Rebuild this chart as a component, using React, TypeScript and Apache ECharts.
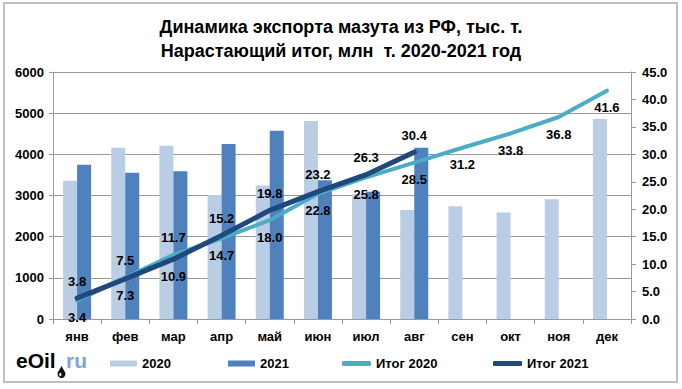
import React, { useEffect, useRef } from "react";
import * as echarts from "echarts";

const months = ["янв", "фев", "мар", "апр", "май", "июн", "июл", "авг", "сен", "окт", "ноя", "дек"];
const export2020 = [3360, 4160, 4210, 3010, 3240, 4810, 3030, 2650, 2740, 2590, 2910, 4860];
const export2021 = [3750, 3550, 3590, 4250, 4570, 3370, 3090, 4160];
const total2020 = [3.4, 7.5, 11.7, 14.7, 18.0, 22.8, 25.8, 28.5, 31.2, 33.8, 36.8, 41.6];
const total2021 = [3.8, 7.3, 10.9, 15.2, 19.8, 23.2, 26.3, 30.4];
const leftTicks = [0, 6000, 1000];
const rightTicks = [0, 45, 5];

const pos2020 = ["bottom", "top", "top", "bottom", "bottom", "bottom", "bottom", "bottom", "bottom", "bottom", "bottom", "bottom"];
const pos2021 = ["top", "bottom", "bottom", "top", "top", "top", "top", "top"];

const FONT = "'Liberation Sans', Arial, sans-serif";

export default function App() {
  const ref = useRef<HTMLDivElement>(null);
  useEffect(() => {
    document.body.style.margin = "0";
    if (!ref.current) return;
    const chart = echarts.init(ref.current, null, { renderer: "svg" });
    const lbl = { fontFamily: FONT, fontWeight: "bold" as const, fontSize: 13, color: "#000" };
    const legendBase = {
      top: 357,
      padding: 0,
      itemGap: 0,
      textStyle: { ...lbl },
    };
    chart.setOption({
      animation: false,
      backgroundColor: "#fff",
      textStyle: { fontFamily: FONT },
      title: {
        text: "Динамика экспорта мазута из РФ, тыс. т.\nНарастающий итог, млн  т. 2020-2021 год",
        left: "center",
        top: 10,
        textStyle: { fontFamily: FONT, fontWeight: "bold", fontSize: 18, lineHeight: 24, color: "#000" },
      },
      grid: { left: 53, right: 51, top: 72, bottom: 70, containLabel: false },
      legend: [
        { ...legendBase, left: 110, data: ["2020"], itemWidth: 27, itemHeight: 6, icon: "rect" },
        { ...legendBase, left: 228, data: ["2021"], itemWidth: 27, itemHeight: 6, icon: "rect" },
        { ...legendBase, left: 342, data: ["Итог 2020"], itemWidth: 29, itemHeight: 5, icon: "roundRect" },
        { ...legendBase, left: 493, data: ["Итог 2021"], itemWidth: 29, itemHeight: 5, icon: "roundRect" },
      ],
      xAxis: {
        type: "category",
        data: months,
        boundaryGap: true,
        axisLine: { lineStyle: { color: "#999", width: 1 } },
        axisTick: { show: true, length: 5, lineStyle: { color: "#999" } },
        axisLabel: { ...lbl, margin: 11, interval: 0 },
      },
      yAxis: [
        {
          type: "value",
          min: leftTicks[0],
          max: leftTicks[1],
          interval: leftTicks[2],
          axisLine: { show: true, lineStyle: { color: "#999" } },
          axisTick: { show: true, length: 4, lineStyle: { color: "#999" } },
          axisLabel: { ...lbl, margin: 9, formatter: (v: number) => String(v) },
          splitLine: { show: true, lineStyle: { color: "#999", width: 1 } },
        },
        {
          type: "value",
          min: rightTicks[0],
          max: rightTicks[1],
          interval: rightTicks[2],
          position: "right",
          axisLine: { show: true, lineStyle: { color: "#999" } },
          axisTick: { show: true, length: 5, lineStyle: { color: "#999" } },
          axisLabel: { ...lbl, margin: 11, formatter: (v: number) => v.toFixed(1) },
          splitLine: { show: false },
        },
      ],
      series: [
        {
          name: "2020",
          type: "bar",
          data: export2020,
          barWidth: 14,
          barGap: "0%",
          itemStyle: { color: "#B9CDE5" },
        },
        {
          name: "2021",
          type: "bar",
          data: export2021,
          barWidth: 14,
          barGap: "0%",
          itemStyle: { color: "#4F81BD" },
        },
        {
          name: "Итог 2020",
          type: "line",
          yAxisIndex: 1,
          data: total2020.map((v, i) => ({ value: v, label: { position: pos2020[i] } })),
          symbol: "circle",
          symbolSize: 1,
          itemStyle: { color: "#4BACC6" },
          lineStyle: { color: "#4BACC6", width: 4, cap: "round", join: "round" },
          label: { show: true, ...lbl, distance: 10, formatter: (p: any) => Number(p.value).toFixed(1) },
          z: 3,
        },
        {
          name: "Итог 2021",
          type: "line",
          yAxisIndex: 1,
          data: total2021.map((v, i) => ({ value: v, label: { position: pos2021[i] } })),
          symbol: "circle",
          symbolSize: 1,
          itemStyle: { color: "#1F497D" },
          lineStyle: { color: "#1F497D", width: 5, cap: "round", join: "round" },
          label: { show: true, ...lbl, distance: 10, formatter: (p: any) => Number(p.value).toFixed(1) },
          z: 4,
        },
      ],
      graphic: [
        {
          type: "rect",
          shape: { x: 4, y: 3, width: 673, height: 379 },
          style: { fill: "none", stroke: "#BFBFBF", lineWidth: 2 },
          silent: true,
          z: 0,
        },
        {
          type: "text",
          x: 16,
          y: 360,
          style: {
            text: "{a|e}{b|Oil}",
            verticalAlign: "middle",
            rich: {
              a: { fontFamily: FONT, fontWeight: "bold", fontSize: 21, color: "#7EA6D6" },
              b: { fontFamily: FONT, fontWeight: "bold", fontSize: 21, color: "#111" },
            },
          },
          z: 10,
        },
        {
          type: "text",
          x: 66,
          y: 360,
          style: {
            text: "ru",
            verticalAlign: "middle",
            fontFamily: FONT,
            fontWeight: "bold",
            fontSize: 21,
            fill: "#7EA6D6",
          },
          z: 10,
        },
        {
          type: "polygon",
          shape: { points: [[61.5, 366], [57.6, 373], [65.4, 373]] },
          style: { fill: "#111" },
          z: 11,
        },
        {
          type: "circle",
          shape: { cx: 61.5, cy: 374, r: 4 },
          style: { fill: "#111" },
          z: 11,
        },
        {
          type: "ellipse",
          shape: { cx: 60.3, cy: 374.5, rx: 1.1, ry: 1.8 },
          style: { fill: "#fff" },
          z: 12,
        },
      ],
    });
    return () => chart.dispose();
  }, []);
  return <div ref={ref} style={{ width: 682, height: 389 }} />;
}
